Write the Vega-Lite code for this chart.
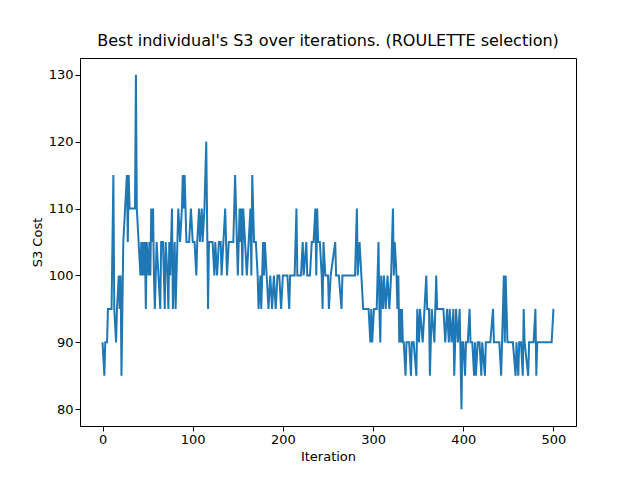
{"$schema":"https://vega.github.io/schema/vega-lite/v6.json","width":496,"height":368,"autosize":{"type":"none"},"padding":{"left":80,"top":58,"right":64,"bottom":54},"title":{"text":"Best individual's S3 over iterations. (ROULETTE selection)","font":"DejaVu Sans","fontSize":16,"fontWeight":"normal","offset":9},"config":{"view":{"stroke":"black"},"axis":{"grid":false,"domainColor":"black","tickColor":"black","labelFont":"DejaVu Sans","titleFont":"DejaVu Sans","labelFontSize":13,"titleFontSize":13,"titleFontWeight":"normal","labelColor":"black","titleColor":"black","tickSize":5}},
"data":{"values":[
{"i":0,"v":90},{"i":2,"v":85},{"i":3,"v":90},{"i":5,"v":90},{"i":6,"v":95},{"i":10,"v":95},{"i":12,"v":115},{"i":13,"v":95},{"i":15,"v":90},{"i":16,"v":95},{"i":18,"v":100},{"i":19,"v":95},{"i":20,"v":100},{"i":21,"v":85},{"i":22,"v":95},{"i":23,"v":105},{"i":25,"v":110},{"i":27,"v":115},{"i":28,"v":105},{"i":29,"v":115},{"i":30,"v":110},{"i":36,"v":110},{"i":37,"v":130},{"i":38,"v":110},{"i":40,"v":105},{"i":42,"v":100},{"i":43,"v":105},{"i":44,"v":100},{"i":45,"v":105},{"i":46,"v":100},{"i":47,"v":105},{"i":48,"v":95},{"i":49,"v":105},{"i":51,"v":100},{"i":52,"v":105},{"i":53,"v":100},{"i":54,"v":110},{"i":55,"v":105},{"i":56,"v":110},{"i":57,"v":100},{"i":58,"v":95},{"i":60,"v":105},{"i":62,"v":100},{"i":64,"v":95},{"i":65,"v":105},{"i":67,"v":105},{"i":69,"v":95},{"i":70,"v":105},{"i":72,"v":100},{"i":73,"v":95},{"i":74,"v":105},{"i":75,"v":100},{"i":77,"v":110},{"i":78,"v":95},{"i":80,"v":105},{"i":81,"v":95},{"i":82,"v":100},{"i":84,"v":110},{"i":86,"v":105},{"i":88,"v":110},{"i":89,"v":115},{"i":90,"v":110},{"i":91,"v":115},{"i":93,"v":105},{"i":96,"v":105},{"i":98,"v":110},{"i":100,"v":105},{"i":102,"v":105},{"i":104,"v":100},{"i":105,"v":105},{"i":107,"v":110},{"i":108,"v":105},{"i":110,"v":110},{"i":111,"v":105},{"i":113,"v":110},{"i":115,"v":120},{"i":117,"v":95},{"i":118,"v":105},{"i":122,"v":105},{"i":124,"v":100},{"i":125,"v":105},{"i":127,"v":100},{"i":129,"v":105},{"i":131,"v":105},{"i":132,"v":100},{"i":134,"v":105},{"i":136,"v":110},{"i":137,"v":105},{"i":138,"v":100},{"i":140,"v":105},{"i":145,"v":105},{"i":147,"v":115},{"i":149,"v":105},{"i":150,"v":100},{"i":152,"v":110},{"i":153,"v":105},{"i":154,"v":110},{"i":155,"v":100},{"i":156,"v":110},{"i":158,"v":105},{"i":160,"v":100},{"i":162,"v":105},{"i":164,"v":110},{"i":165,"v":100},{"i":166,"v":115},{"i":168,"v":105},{"i":170,"v":105},{"i":172,"v":100},{"i":173,"v":95},{"i":175,"v":100},{"i":176,"v":95},{"i":178,"v":105},{"i":179,"v":100},{"i":180,"v":105},{"i":182,"v":100},{"i":184,"v":95},{"i":186,"v":100},{"i":188,"v":95},{"i":190,"v":100},{"i":192,"v":95},{"i":194,"v":100},{"i":196,"v":100},{"i":198,"v":95},{"i":200,"v":100},{"i":205,"v":100},{"i":207,"v":95},{"i":208,"v":100},{"i":213,"v":100},{"i":215,"v":110},{"i":216,"v":100},{"i":220,"v":100},{"i":222,"v":105},{"i":223,"v":100},{"i":226,"v":105},{"i":227,"v":100},{"i":230,"v":100},{"i":232,"v":105},{"i":234,"v":105},{"i":236,"v":110},{"i":237,"v":100},{"i":238,"v":110},{"i":239,"v":105},{"i":241,"v":105},{"i":243,"v":100},{"i":244,"v":95},{"i":245,"v":105},{"i":247,"v":100},{"i":250,"v":100},{"i":251,"v":95},{"i":253,"v":100},{"i":258,"v":105},{"i":259,"v":100},{"i":262,"v":100},{"i":265,"v":95},{"i":266,"v":100},{"i":275,"v":100},{"i":280,"v":100},{"i":282,"v":110},{"i":283,"v":100},{"i":285,"v":105},{"i":287,"v":100},{"i":289,"v":95},{"i":295,"v":95},{"i":297,"v":90},{"i":298,"v":95},{"i":299,"v":90},{"i":301,"v":95},{"i":304,"v":95},{"i":306,"v":105},{"i":307,"v":95},{"i":308,"v":90},{"i":309,"v":100},{"i":311,"v":95},{"i":312,"v":100},{"i":314,"v":95},{"i":316,"v":100},{"i":318,"v":95},{"i":320,"v":100},{"i":322,"v":110},{"i":323,"v":100},{"i":324,"v":105},{"i":326,"v":100},{"i":327,"v":95},{"i":328,"v":100},{"i":329,"v":90},{"i":330,"v":95},{"i":331,"v":90},{"i":332,"v":95},{"i":333,"v":90},{"i":334,"v":90},{"i":336,"v":85},{"i":337,"v":90},{"i":340,"v":90},{"i":342,"v":85},{"i":343,"v":90},{"i":345,"v":90},{"i":348,"v":85},{"i":349,"v":95},{"i":351,"v":90},{"i":352,"v":95},{"i":355,"v":90},{"i":357,"v":95},{"i":359,"v":100},{"i":360,"v":95},{"i":362,"v":95},{"i":363,"v":85},{"i":365,"v":95},{"i":368,"v":90},{"i":370,"v":100},{"i":371,"v":95},{"i":375,"v":95},{"i":378,"v":95},{"i":380,"v":90},{"i":382,"v":95},{"i":384,"v":90},{"i":385,"v":95},{"i":387,"v":90},{"i":389,"v":95},{"i":390,"v":85},{"i":392,"v":95},{"i":394,"v":90},{"i":396,"v":95},{"i":398,"v":80},{"i":399,"v":90},{"i":400,"v":90},{"i":402,"v":85},{"i":403,"v":90},{"i":405,"v":90},{"i":407,"v":95},{"i":408,"v":90},{"i":410,"v":90},{"i":412,"v":85},{"i":413,"v":90},{"i":414,"v":85},{"i":416,"v":90},{"i":418,"v":90},{"i":420,"v":85},{"i":421,"v":90},{"i":424,"v":85},{"i":425,"v":90},{"i":430,"v":90},{"i":433,"v":95},{"i":434,"v":90},{"i":440,"v":90},{"i":442,"v":85},{"i":443,"v":90},{"i":445,"v":100},{"i":446,"v":90},{"i":447,"v":100},{"i":448,"v":95},{"i":449,"v":90},{"i":455,"v":90},{"i":458,"v":85},{"i":459,"v":90},{"i":461,"v":85},{"i":462,"v":90},{"i":464,"v":90},{"i":466,"v":85},{"i":467,"v":95},{"i":468,"v":90},{"i":472,"v":85},{"i":473,"v":90},{"i":478,"v":90},{"i":480,"v":95},{"i":481,"v":85},{"i":482,"v":90},{"i":485,"v":90},{"i":498,"v":90},{"i":500,"v":95}
]},
"mark":{"type":"line","color":"#1f77b4","strokeWidth":2,"clip":true},
"encoding":{"x":{"field":"i","type":"quantitative","title":"Iteration","scale":{"domain":[-25,525],"nice":false},"axis":{"values":[0,100,200,300,400,500]}},"y":{"field":"v","type":"quantitative","title":"S3 Cost","scale":{"domain":[77.5,132.5],"nice":false,"zero":false},"axis":{"values":[80,90,100,110,120,130]}}}}
